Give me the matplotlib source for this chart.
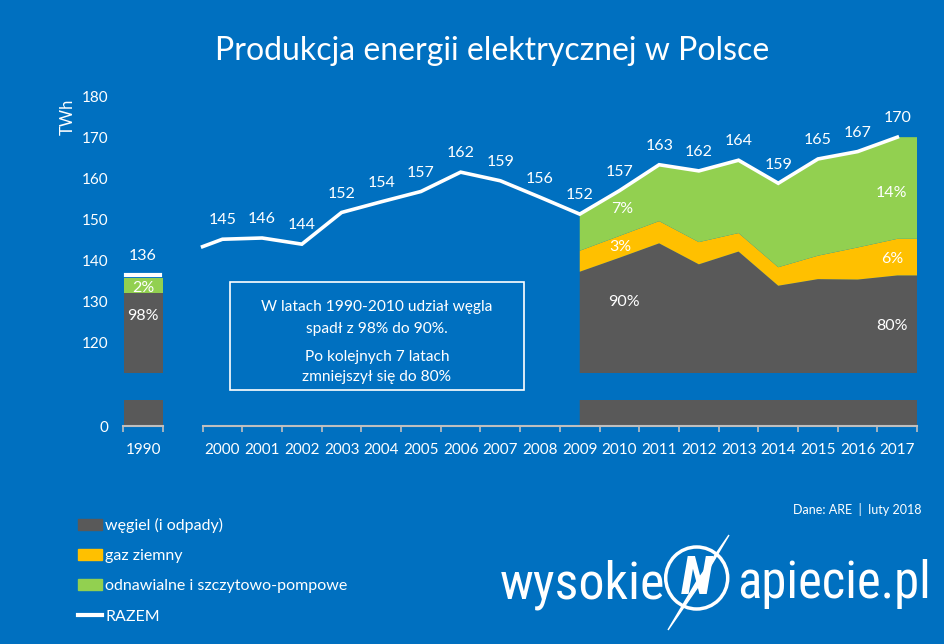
import matplotlib
matplotlib.use('Agg')
import matplotlib.pyplot as plt
from matplotlib.patches import Patch, Circle, Rectangle, Polygon
from matplotlib.lines import Line2D

BG = '#0070C0'
GRAY = '#595959'
YELLOW = '#FFC000'
GREEN = '#92D050'
AXIS = '#BFBFBF'

plt.rcParams['font.family'] = ['Lato', 'DejaVu Sans']

# dane (TWh)
years = ['1990'] + [str(y) for y in range(2000, 2018)]

wegiel_1990 = 132.1
oze_1990 = 3.8
razem_1990 = 136.5
razem_1990_label = '136'

razem_start = 143.4  # poczatek linii na krawedzi kategorii 2000
razem = [145.2, 145.5, 144.0, 151.7, 154.3, 156.8, 161.5, 159.4, 155.4,
         151.3, 157.0, 163.3, 161.8, 164.4, 158.8, 164.7, 166.5, 170.0]
razem_labels = ['145', '146', '144', '152', '154', '157', '162', '159', '156',
                '152', '157', '163', '162', '164', '159', '165', '167', '170']

# 2009-2017
wegiel = [137.3, 140.7, 144.2, 139.1, 142.2, 133.9, 135.5, 135.4, 136.4]
gaz = [5.1, 5.3, 5.4, 5.4, 4.5, 4.5, 5.7, 7.8, 8.9]
oze = [8.9, 11.0, 13.7, 17.3, 17.7, 20.4, 23.5, 23.3, 24.7]

# pozycje kategorii (luka po 1990)
pos_1990 = 0
pos = list(range(2, 2 + len(razem)))
pos_area = pos[9:] + [pos[-1] + 0.5]
wegiel_a = wegiel + [wegiel[-1]]
gaz_a = gaz + [gaz[-1]]
oze_a = oze + [oze[-1]]

fig = plt.figure(figsize=(9.45, 6.44), dpi=100, facecolor=BG)
L, W = 123.2 / 945, 794 / 945
ax = fig.add_axes([L, 1 - 373 / 644, W, 277 / 644])
ax2 = fig.add_axes([L, 1 - 426 / 644, W, 26 / 644])


def draw(a):
    a.bar(pos_1990, wegiel_1990, width=0.98, color=GRAY)
    a.bar(pos_1990, oze_1990, bottom=wegiel_1990, width=0.98, color=GREEN)
    a.stackplot(pos_area, wegiel_a, gaz_a, oze_a, colors=[GRAY, YELLOW, GREEN], lw=0)
    a.set_xlim(-0.5, 19.5)
    a.set_facecolor('none')
    for s in a.spines.values():
        s.set_visible(False)
    a.tick_params(axis='y', length=0, pad=11, labelcolor='white', labelsize=11)


draw(ax)
draw(ax2)

ax.plot([pos[0] - 0.5] + pos, [razem_start] + razem, color='white', lw=2.6, solid_joinstyle='miter')
ax.plot([pos_1990 - 0.42, pos_1990 + 0.42], [razem_1990, razem_1990], color='white', lw=3)
ax.set_ylim(112.7, 180)
ax.set_yticks(range(120, 181, 10))
ax.set_xticks([])

ax.annotate(razem_1990_label, (pos_1990, razem_1990), xytext=(0, 14), textcoords='offset points',
            ha='center', va='center', color='white', fontsize=11.5)
for x, v, t in zip(pos, razem, razem_labels):
    ax.annotate(t, (x, v), xytext=(0, 13.5), textcoords='offset points',
                ha='center', va='center', color='white', fontsize=11.5)

for x, v, t in [(0, 133.4, '2%'), (0, 126.6, '98%'), (12.06, 152.5, '7%'),
                (12.03, 143.4, '3%'), (12.12, 129.9, '90%'), (18.84, 156.5, '14%'),
                (18.86, 140.4, '6%'), (18.86, 124.1, '80%')]:
    ax.text(x, v, t, ha='center', va='center', color='white', fontsize=11.5)

ax2.set_ylim(0, 6.3)
ax2.set_yticks([0])
ax2.set_xticks([pos_1990] + pos)
ax2.set_xticklabels(years)
ax2.set_xticks([p - 0.5 for p in range(0, 21) if p != 1] + [0.5], minor=True)
ax2.tick_params(axis='x', which='major', length=0, pad=12, labelcolor='white', labelsize=11)
ax2.tick_params(axis='x', which='minor', length=4, width=1.2, color=AXIS, direction='out')
ax2.plot([-0.5, 0.5], [0, 0], color=AXIS, lw=1.5, clip_on=False)
ax2.plot([1.5, 19.5], [0, 0], color=AXIS, lw=1.5, clip_on=False)

fig.text(492 / 945, 1 - 51 / 644, 'Produkcja energii elektrycznej w Polsce',
         ha='center', va='center', color='white', fontsize=23)
fig.text(68 / 945, 1 - 116.7 / 644, 'TWh', rotation=90, ha='center', va='center',
         color='white', fontsize=12)

# ramka z komentarzem
fig.patches.append(Rectangle((230 / 945, 1 - 390 / 644), 294 / 945, 108 / 644,
                             transform=fig.transFigure, fill=False, ec='white', lw=1.2))
for yy, t in [(306.7, 'W latach 1990-2010 udział węgla'), (329, 'spadł z 98% do 90%.'),
              (356.7, 'Po kolejnych 7 latach'), (377, 'zmniejszył się do 80%')]:
    fig.text(377 / 945, 1 - yy / 644, t, ha='center', va='center', color='white', fontsize=11.2)

handles = [Patch(color=GRAY), Patch(color=YELLOW), Patch(color=GREEN),
           Line2D([], [], color='white', lw=3)]
labels = ['węgiel (i odpady)', 'gaz ziemny', 'odnawialne i szczytowo-pompowe', 'RAZEM']
fig.legend(handles, labels, loc='upper left', bbox_to_anchor=(78 / 945, 1 - 518 / 644),
           frameon=False, fontsize=11.5, labelcolor='white', handlelength=1.5,
           handleheight=0.7, handletextpad=0.2, labelspacing=1.0, borderpad=0,
           borderaxespad=0)

fig.text(922 / 945, 1 - 509 / 644, 'Dane: ARE  |  luty 2018', ha='right', va='center',
         color='white', fontsize=9)

# logo
logo_font = ['Roboto Condensed', 'Liberation Sans Narrow', 'Liberation Sans', 'DejaVu Sans']
fig.text(665 / 945, 1 - 598 / 644, 'wysokie', ha='right', va='baseline', color='white',
         fontsize=37.5, family=logo_font)
fig.text(737 / 945, 1 - 598 / 644, 'apiecie.pl', ha='left', va='baseline', color='white',
         fontsize=36.5, family=logo_font)
fig.patches.append(Circle((6.967, 0.66), 0.31, transform=fig.dpi_scale_trans,
                          fill=False, ec='white', lw=2.5))
fig.text(6.967, 0.64, 'N', transform=fig.dpi_scale_trans, ha='center', va='center',
         color='white', fontsize=38, fontweight='bold', style='italic', family=logo_font)
fig.patches.append(Polygon([(7.29, 1.09), (7.002, 0.604), (6.68, 0.14), (6.968, 0.626)],
                           transform=fig.dpi_scale_trans, color='white'))

fig.savefig('out.png', dpi=100, facecolor=BG)
